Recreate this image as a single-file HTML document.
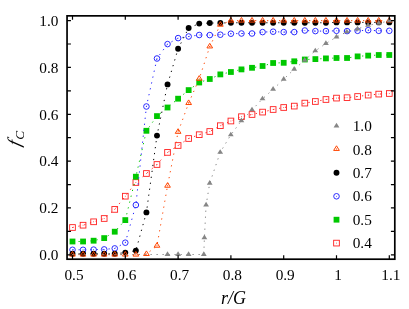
<!DOCTYPE html>
<html><head><meta charset="utf-8"><title>chart</title>
<style>
html,body{margin:0;padding:0;background:#fff;}
body{width:409px;height:309px;overflow:hidden;font-family:"Liberation Serif",serif;}
.t{font-family:"Liberation Serif",serif;font-size:15.3px;fill:#000;}
.i{font-family:"Liberation Serif",serif;font-style:italic;fill:#000;}
</style></head><body>
<svg width="409" height="309" viewBox="0 0 409 309" style="display:block;will-change:transform;opacity:0.999">
<rect width="409" height="309" fill="#fff"/>
<g>
<polyline points="72.50,227.50 83.06,225.20 93.62,221.80 104.18,218.50 114.74,209.40 125.30,196.20 135.86,182.50 146.42,173.50 156.98,164.50 167.54,152.40 178.10,145.50 188.66,138.50 199.22,134.70 209.78,131.50 220.34,125.70 230.90,121.00 241.46,116.70 252.02,114.50 262.58,112.10 273.14,109.50 283.70,107.50 294.26,106.10 304.82,103.10 315.38,101.50 325.94,99.50 336.50,98.10 347.06,97.70 357.62,96.50 368.18,95.10 378.74,94.10 389.30,93.50" fill="none" stroke="#ff2020" stroke-width="1" stroke-dasharray="1.25 4.75"/>
<rect x="69.65" y="224.65" width="5.7" height="5.7" fill="none" stroke="#ff2020" stroke-width="0.9"/><rect x="72.10" y="227.10" width="0.8" height="0.8" fill="#ff2020"/>
<rect x="80.21" y="222.35" width="5.7" height="5.7" fill="none" stroke="#ff2020" stroke-width="0.9"/><rect x="82.66" y="224.80" width="0.8" height="0.8" fill="#ff2020"/>
<rect x="90.77" y="218.95" width="5.7" height="5.7" fill="none" stroke="#ff2020" stroke-width="0.9"/><rect x="93.22" y="221.40" width="0.8" height="0.8" fill="#ff2020"/>
<rect x="101.33" y="215.65" width="5.7" height="5.7" fill="none" stroke="#ff2020" stroke-width="0.9"/><rect x="103.78" y="218.10" width="0.8" height="0.8" fill="#ff2020"/>
<rect x="111.89" y="206.55" width="5.7" height="5.7" fill="none" stroke="#ff2020" stroke-width="0.9"/><rect x="114.34" y="209.00" width="0.8" height="0.8" fill="#ff2020"/>
<rect x="122.45" y="193.35" width="5.7" height="5.7" fill="none" stroke="#ff2020" stroke-width="0.9"/><rect x="124.90" y="195.80" width="0.8" height="0.8" fill="#ff2020"/>
<rect x="133.01" y="179.65" width="5.7" height="5.7" fill="none" stroke="#ff2020" stroke-width="0.9"/><rect x="135.46" y="182.10" width="0.8" height="0.8" fill="#ff2020"/>
<rect x="143.57" y="170.65" width="5.7" height="5.7" fill="none" stroke="#ff2020" stroke-width="0.9"/><rect x="146.02" y="173.10" width="0.8" height="0.8" fill="#ff2020"/>
<rect x="154.13" y="161.65" width="5.7" height="5.7" fill="none" stroke="#ff2020" stroke-width="0.9"/><rect x="156.58" y="164.10" width="0.8" height="0.8" fill="#ff2020"/>
<rect x="164.69" y="149.55" width="5.7" height="5.7" fill="none" stroke="#ff2020" stroke-width="0.9"/><rect x="167.14" y="152.00" width="0.8" height="0.8" fill="#ff2020"/>
<rect x="175.25" y="142.65" width="5.7" height="5.7" fill="none" stroke="#ff2020" stroke-width="0.9"/><rect x="177.70" y="145.10" width="0.8" height="0.8" fill="#ff2020"/>
<rect x="185.81" y="135.65" width="5.7" height="5.7" fill="none" stroke="#ff2020" stroke-width="0.9"/><rect x="188.26" y="138.10" width="0.8" height="0.8" fill="#ff2020"/>
<rect x="196.37" y="131.85" width="5.7" height="5.7" fill="none" stroke="#ff2020" stroke-width="0.9"/><rect x="198.82" y="134.30" width="0.8" height="0.8" fill="#ff2020"/>
<rect x="206.93" y="128.65" width="5.7" height="5.7" fill="none" stroke="#ff2020" stroke-width="0.9"/><rect x="209.38" y="131.10" width="0.8" height="0.8" fill="#ff2020"/>
<rect x="217.49" y="122.85" width="5.7" height="5.7" fill="none" stroke="#ff2020" stroke-width="0.9"/><rect x="219.94" y="125.30" width="0.8" height="0.8" fill="#ff2020"/>
<rect x="228.05" y="118.15" width="5.7" height="5.7" fill="none" stroke="#ff2020" stroke-width="0.9"/><rect x="230.50" y="120.60" width="0.8" height="0.8" fill="#ff2020"/>
<rect x="238.61" y="113.85" width="5.7" height="5.7" fill="none" stroke="#ff2020" stroke-width="0.9"/><rect x="241.06" y="116.30" width="0.8" height="0.8" fill="#ff2020"/>
<rect x="249.17" y="111.65" width="5.7" height="5.7" fill="none" stroke="#ff2020" stroke-width="0.9"/><rect x="251.62" y="114.10" width="0.8" height="0.8" fill="#ff2020"/>
<rect x="259.73" y="109.25" width="5.7" height="5.7" fill="none" stroke="#ff2020" stroke-width="0.9"/><rect x="262.18" y="111.70" width="0.8" height="0.8" fill="#ff2020"/>
<rect x="270.29" y="106.65" width="5.7" height="5.7" fill="none" stroke="#ff2020" stroke-width="0.9"/><rect x="272.74" y="109.10" width="0.8" height="0.8" fill="#ff2020"/>
<rect x="280.85" y="104.65" width="5.7" height="5.7" fill="none" stroke="#ff2020" stroke-width="0.9"/><rect x="283.30" y="107.10" width="0.8" height="0.8" fill="#ff2020"/>
<rect x="291.41" y="103.25" width="5.7" height="5.7" fill="none" stroke="#ff2020" stroke-width="0.9"/><rect x="293.86" y="105.70" width="0.8" height="0.8" fill="#ff2020"/>
<rect x="301.97" y="100.25" width="5.7" height="5.7" fill="none" stroke="#ff2020" stroke-width="0.9"/><rect x="304.42" y="102.70" width="0.8" height="0.8" fill="#ff2020"/>
<rect x="312.53" y="98.65" width="5.7" height="5.7" fill="none" stroke="#ff2020" stroke-width="0.9"/><rect x="314.98" y="101.10" width="0.8" height="0.8" fill="#ff2020"/>
<rect x="323.09" y="96.65" width="5.7" height="5.7" fill="none" stroke="#ff2020" stroke-width="0.9"/><rect x="325.54" y="99.10" width="0.8" height="0.8" fill="#ff2020"/>
<rect x="333.65" y="95.25" width="5.7" height="5.7" fill="none" stroke="#ff2020" stroke-width="0.9"/><rect x="336.10" y="97.70" width="0.8" height="0.8" fill="#ff2020"/>
<rect x="344.21" y="94.85" width="5.7" height="5.7" fill="none" stroke="#ff2020" stroke-width="0.9"/><rect x="346.66" y="97.30" width="0.8" height="0.8" fill="#ff2020"/>
<rect x="354.77" y="93.65" width="5.7" height="5.7" fill="none" stroke="#ff2020" stroke-width="0.9"/><rect x="357.22" y="96.10" width="0.8" height="0.8" fill="#ff2020"/>
<rect x="365.33" y="92.25" width="5.7" height="5.7" fill="none" stroke="#ff2020" stroke-width="0.9"/><rect x="367.78" y="94.70" width="0.8" height="0.8" fill="#ff2020"/>
<rect x="375.89" y="91.25" width="5.7" height="5.7" fill="none" stroke="#ff2020" stroke-width="0.9"/><rect x="378.34" y="93.70" width="0.8" height="0.8" fill="#ff2020"/>
<rect x="386.45" y="90.65" width="5.7" height="5.7" fill="none" stroke="#ff2020" stroke-width="0.9"/><rect x="388.90" y="93.10" width="0.8" height="0.8" fill="#ff2020"/>
</g>
<g>
<polyline points="72.50,241.50 83.06,241.50 93.62,240.70 104.18,238.10 114.74,231.70 125.30,220.10 135.86,176.70 146.42,130.80 156.98,116.10 167.54,107.50 178.10,98.70 188.66,90.10 199.22,82.50 209.78,79.00 220.34,74.40 230.90,72.00 241.46,69.40 252.02,67.80 262.58,66.00 273.14,63.00 283.70,62.80 294.26,61.30 304.82,59.50 315.38,59.10 325.94,58.40 336.50,58.00 347.06,58.00 357.62,56.40 368.18,55.60 378.74,55.00 389.30,55.00" fill="none" stroke="#00c800" stroke-width="1" stroke-dasharray="1.25 4.75"/>
<rect x="69.60" y="238.60" width="5.8" height="5.8" fill="#00c800"/>
<rect x="80.16" y="238.60" width="5.8" height="5.8" fill="#00c800"/>
<rect x="90.72" y="237.80" width="5.8" height="5.8" fill="#00c800"/>
<rect x="101.28" y="235.20" width="5.8" height="5.8" fill="#00c800"/>
<rect x="111.84" y="228.80" width="5.8" height="5.8" fill="#00c800"/>
<rect x="122.40" y="217.20" width="5.8" height="5.8" fill="#00c800"/>
<rect x="132.96" y="173.80" width="5.8" height="5.8" fill="#00c800"/>
<rect x="143.52" y="127.90" width="5.8" height="5.8" fill="#00c800"/>
<rect x="154.08" y="113.20" width="5.8" height="5.8" fill="#00c800"/>
<rect x="164.64" y="104.60" width="5.8" height="5.8" fill="#00c800"/>
<rect x="175.20" y="95.80" width="5.8" height="5.8" fill="#00c800"/>
<rect x="185.76" y="87.20" width="5.8" height="5.8" fill="#00c800"/>
<rect x="196.32" y="79.60" width="5.8" height="5.8" fill="#00c800"/>
<rect x="206.88" y="76.10" width="5.8" height="5.8" fill="#00c800"/>
<rect x="217.44" y="71.50" width="5.8" height="5.8" fill="#00c800"/>
<rect x="228.00" y="69.10" width="5.8" height="5.8" fill="#00c800"/>
<rect x="238.56" y="66.50" width="5.8" height="5.8" fill="#00c800"/>
<rect x="249.12" y="64.90" width="5.8" height="5.8" fill="#00c800"/>
<rect x="259.68" y="63.10" width="5.8" height="5.8" fill="#00c800"/>
<rect x="270.24" y="60.10" width="5.8" height="5.8" fill="#00c800"/>
<rect x="280.80" y="59.90" width="5.8" height="5.8" fill="#00c800"/>
<rect x="291.36" y="58.40" width="5.8" height="5.8" fill="#00c800"/>
<rect x="301.92" y="56.60" width="5.8" height="5.8" fill="#00c800"/>
<rect x="312.48" y="56.20" width="5.8" height="5.8" fill="#00c800"/>
<rect x="323.04" y="55.50" width="5.8" height="5.8" fill="#00c800"/>
<rect x="333.60" y="55.10" width="5.8" height="5.8" fill="#00c800"/>
<rect x="344.16" y="55.10" width="5.8" height="5.8" fill="#00c800"/>
<rect x="354.72" y="53.50" width="5.8" height="5.8" fill="#00c800"/>
<rect x="365.28" y="52.70" width="5.8" height="5.8" fill="#00c800"/>
<rect x="375.84" y="52.10" width="5.8" height="5.8" fill="#00c800"/>
<rect x="386.40" y="52.10" width="5.8" height="5.8" fill="#00c800"/>
</g>
<g>
<polyline points="72.50,249.80 83.06,249.80 93.62,249.60 104.18,249.40 114.74,248.40 125.30,242.70 135.86,205.00 146.42,106.50 156.98,58.50 167.54,44.10 178.10,38.10 188.66,36.50 199.22,35.00 209.78,35.10 220.34,34.70 230.90,33.70 241.46,33.50 252.02,33.50 262.58,32.10 273.14,31.70 283.70,32.10 294.26,32.10 304.82,30.50 315.38,31.10 325.94,31.10 336.50,30.80 347.06,31.10 357.62,30.80 368.18,30.20 378.74,30.80 389.30,30.80" fill="none" stroke="#2020ff" stroke-width="1" stroke-dasharray="1.25 4.75"/>
<circle cx="72.50" cy="249.80" r="2.8" fill="none" stroke="#2020ff" stroke-width="0.95"/><rect x="72.10" y="249.40" width="0.8" height="0.8" fill="#2020ff"/>
<circle cx="83.06" cy="249.80" r="2.8" fill="none" stroke="#2020ff" stroke-width="0.95"/><rect x="82.66" y="249.40" width="0.8" height="0.8" fill="#2020ff"/>
<circle cx="93.62" cy="249.60" r="2.8" fill="none" stroke="#2020ff" stroke-width="0.95"/><rect x="93.22" y="249.20" width="0.8" height="0.8" fill="#2020ff"/>
<circle cx="104.18" cy="249.40" r="2.8" fill="none" stroke="#2020ff" stroke-width="0.95"/><rect x="103.78" y="249.00" width="0.8" height="0.8" fill="#2020ff"/>
<circle cx="114.74" cy="248.40" r="2.8" fill="none" stroke="#2020ff" stroke-width="0.95"/><rect x="114.34" y="248.00" width="0.8" height="0.8" fill="#2020ff"/>
<circle cx="125.30" cy="242.70" r="2.8" fill="none" stroke="#2020ff" stroke-width="0.95"/><rect x="124.90" y="242.30" width="0.8" height="0.8" fill="#2020ff"/>
<circle cx="135.86" cy="205.00" r="2.8" fill="none" stroke="#2020ff" stroke-width="0.95"/><rect x="135.46" y="204.60" width="0.8" height="0.8" fill="#2020ff"/>
<circle cx="146.42" cy="106.50" r="2.8" fill="none" stroke="#2020ff" stroke-width="0.95"/><rect x="146.02" y="106.10" width="0.8" height="0.8" fill="#2020ff"/>
<circle cx="156.98" cy="58.50" r="2.8" fill="none" stroke="#2020ff" stroke-width="0.95"/><rect x="156.58" y="58.10" width="0.8" height="0.8" fill="#2020ff"/>
<circle cx="167.54" cy="44.10" r="2.8" fill="none" stroke="#2020ff" stroke-width="0.95"/><rect x="167.14" y="43.70" width="0.8" height="0.8" fill="#2020ff"/>
<circle cx="178.10" cy="38.10" r="2.8" fill="none" stroke="#2020ff" stroke-width="0.95"/><rect x="177.70" y="37.70" width="0.8" height="0.8" fill="#2020ff"/>
<circle cx="188.66" cy="36.50" r="2.8" fill="none" stroke="#2020ff" stroke-width="0.95"/><rect x="188.26" y="36.10" width="0.8" height="0.8" fill="#2020ff"/>
<circle cx="199.22" cy="35.00" r="2.8" fill="none" stroke="#2020ff" stroke-width="0.95"/><rect x="198.82" y="34.60" width="0.8" height="0.8" fill="#2020ff"/>
<circle cx="209.78" cy="35.10" r="2.8" fill="none" stroke="#2020ff" stroke-width="0.95"/><rect x="209.38" y="34.70" width="0.8" height="0.8" fill="#2020ff"/>
<circle cx="220.34" cy="34.70" r="2.8" fill="none" stroke="#2020ff" stroke-width="0.95"/><rect x="219.94" y="34.30" width="0.8" height="0.8" fill="#2020ff"/>
<circle cx="230.90" cy="33.70" r="2.8" fill="none" stroke="#2020ff" stroke-width="0.95"/><rect x="230.50" y="33.30" width="0.8" height="0.8" fill="#2020ff"/>
<circle cx="241.46" cy="33.50" r="2.8" fill="none" stroke="#2020ff" stroke-width="0.95"/><rect x="241.06" y="33.10" width="0.8" height="0.8" fill="#2020ff"/>
<circle cx="252.02" cy="33.50" r="2.8" fill="none" stroke="#2020ff" stroke-width="0.95"/><rect x="251.62" y="33.10" width="0.8" height="0.8" fill="#2020ff"/>
<circle cx="262.58" cy="32.10" r="2.8" fill="none" stroke="#2020ff" stroke-width="0.95"/><rect x="262.18" y="31.70" width="0.8" height="0.8" fill="#2020ff"/>
<circle cx="273.14" cy="31.70" r="2.8" fill="none" stroke="#2020ff" stroke-width="0.95"/><rect x="272.74" y="31.30" width="0.8" height="0.8" fill="#2020ff"/>
<circle cx="283.70" cy="32.10" r="2.8" fill="none" stroke="#2020ff" stroke-width="0.95"/><rect x="283.30" y="31.70" width="0.8" height="0.8" fill="#2020ff"/>
<circle cx="294.26" cy="32.10" r="2.8" fill="none" stroke="#2020ff" stroke-width="0.95"/><rect x="293.86" y="31.70" width="0.8" height="0.8" fill="#2020ff"/>
<circle cx="304.82" cy="30.50" r="2.8" fill="none" stroke="#2020ff" stroke-width="0.95"/><rect x="304.42" y="30.10" width="0.8" height="0.8" fill="#2020ff"/>
<circle cx="315.38" cy="31.10" r="2.8" fill="none" stroke="#2020ff" stroke-width="0.95"/><rect x="314.98" y="30.70" width="0.8" height="0.8" fill="#2020ff"/>
<circle cx="325.94" cy="31.10" r="2.8" fill="none" stroke="#2020ff" stroke-width="0.95"/><rect x="325.54" y="30.70" width="0.8" height="0.8" fill="#2020ff"/>
<circle cx="336.50" cy="30.80" r="2.8" fill="none" stroke="#2020ff" stroke-width="0.95"/><rect x="336.10" y="30.40" width="0.8" height="0.8" fill="#2020ff"/>
<circle cx="347.06" cy="31.10" r="2.8" fill="none" stroke="#2020ff" stroke-width="0.95"/><rect x="346.66" y="30.70" width="0.8" height="0.8" fill="#2020ff"/>
<circle cx="357.62" cy="30.80" r="2.8" fill="none" stroke="#2020ff" stroke-width="0.95"/><rect x="357.22" y="30.40" width="0.8" height="0.8" fill="#2020ff"/>
<circle cx="368.18" cy="30.20" r="2.8" fill="none" stroke="#2020ff" stroke-width="0.95"/><rect x="367.78" y="29.80" width="0.8" height="0.8" fill="#2020ff"/>
<circle cx="378.74" cy="30.80" r="2.8" fill="none" stroke="#2020ff" stroke-width="0.95"/><rect x="378.34" y="30.40" width="0.8" height="0.8" fill="#2020ff"/>
<circle cx="389.30" cy="30.80" r="2.8" fill="none" stroke="#2020ff" stroke-width="0.95"/><rect x="388.90" y="30.40" width="0.8" height="0.8" fill="#2020ff"/>
</g>
<g>
<polyline points="72.50,253.80 83.06,253.80 93.62,253.80 104.18,253.80 114.74,253.80 125.30,252.60 135.86,250.60 146.42,212.40 156.98,135.60 167.54,84.40 178.10,48.70 188.66,28.00 199.22,23.60 209.78,23.00 220.34,23.00 230.90,22.75 241.46,22.75 252.02,22.75 262.58,22.75 273.14,22.75 283.70,22.75 294.26,22.75 304.82,22.75 315.38,22.75 325.94,22.75 336.50,22.40 347.06,22.40 357.62,22.40 368.18,22.40 378.74,22.40 389.30,22.40" fill="none" stroke="#000" stroke-width="1" stroke-dasharray="1.25 4.75"/>
<circle cx="72.50" cy="253.80" r="2.95" fill="#000"/>
<circle cx="83.06" cy="253.80" r="2.95" fill="#000"/>
<circle cx="93.62" cy="253.80" r="2.95" fill="#000"/>
<circle cx="104.18" cy="253.80" r="2.95" fill="#000"/>
<circle cx="114.74" cy="253.80" r="2.95" fill="#000"/>
<circle cx="125.30" cy="252.60" r="2.95" fill="#000"/>
<circle cx="135.86" cy="250.60" r="2.95" fill="#000"/>
<circle cx="146.42" cy="212.40" r="2.95" fill="#000"/>
<circle cx="156.98" cy="135.60" r="2.95" fill="#000"/>
<circle cx="167.54" cy="84.40" r="2.95" fill="#000"/>
<circle cx="178.10" cy="48.70" r="2.95" fill="#000"/>
<circle cx="188.66" cy="28.00" r="2.95" fill="#000"/>
<circle cx="199.22" cy="23.60" r="2.95" fill="#000"/>
<circle cx="209.78" cy="23.00" r="2.95" fill="#000"/>
<circle cx="220.34" cy="23.00" r="2.95" fill="#000"/>
<circle cx="230.90" cy="22.75" r="2.95" fill="#000"/>
<circle cx="241.46" cy="22.75" r="2.95" fill="#000"/>
<circle cx="252.02" cy="22.75" r="2.95" fill="#000"/>
<circle cx="262.58" cy="22.75" r="2.95" fill="#000"/>
<circle cx="273.14" cy="22.75" r="2.95" fill="#000"/>
<circle cx="283.70" cy="22.75" r="2.95" fill="#000"/>
<circle cx="294.26" cy="22.75" r="2.95" fill="#000"/>
<circle cx="304.82" cy="22.75" r="2.95" fill="#000"/>
<circle cx="315.38" cy="22.75" r="2.95" fill="#000"/>
<circle cx="325.94" cy="22.75" r="2.95" fill="#000"/>
<circle cx="336.50" cy="22.40" r="2.95" fill="#000"/>
<circle cx="347.06" cy="22.40" r="2.95" fill="#000"/>
<circle cx="357.62" cy="22.40" r="2.95" fill="#000"/>
<circle cx="368.18" cy="22.40" r="2.95" fill="#000"/>
<circle cx="378.74" cy="22.40" r="2.95" fill="#000"/>
<circle cx="389.30" cy="22.40" r="2.95" fill="#000"/>
</g>
<g>
<polyline points="72.50,254.66 83.06,254.66 93.62,254.66 104.18,254.66 114.74,254.66 125.30,254.66 135.86,254.66 146.42,254.10 156.98,245.80 167.54,185.80 178.10,131.90 188.66,103.10 199.22,78.80 209.78,46.50 220.34,24.80 230.90,20.65 241.46,20.65 252.02,20.65 262.58,20.65 273.14,20.65 283.70,20.65 294.26,20.65 304.82,20.65 315.38,20.65 325.94,20.65 336.50,20.65 347.06,20.65 357.62,20.65 368.18,20.65 378.74,20.65 389.30,20.65" fill="none" stroke="#ff4500" stroke-width="1" stroke-dasharray="1.25 4.75"/>
<path d="M72.50,251.47 L69.65,256.09 L75.35,256.09 Z" fill="none" stroke="#ff4500" stroke-width="1" stroke-linejoin="miter"/><rect x="72.00" y="254.16" width="1" height="1" fill="#ff4500"/>
<path d="M83.06,251.47 L80.21,256.09 L85.91,256.09 Z" fill="none" stroke="#ff4500" stroke-width="1" stroke-linejoin="miter"/><rect x="82.56" y="254.16" width="1" height="1" fill="#ff4500"/>
<path d="M93.62,251.47 L90.77,256.09 L96.47,256.09 Z" fill="none" stroke="#ff4500" stroke-width="1" stroke-linejoin="miter"/><rect x="93.12" y="254.16" width="1" height="1" fill="#ff4500"/>
<path d="M104.18,251.47 L101.33,256.09 L107.03,256.09 Z" fill="none" stroke="#ff4500" stroke-width="1" stroke-linejoin="miter"/><rect x="103.68" y="254.16" width="1" height="1" fill="#ff4500"/>
<path d="M114.74,251.47 L111.89,256.09 L117.59,256.09 Z" fill="none" stroke="#ff4500" stroke-width="1" stroke-linejoin="miter"/><rect x="114.24" y="254.16" width="1" height="1" fill="#ff4500"/>
<path d="M125.30,251.47 L122.45,256.09 L128.15,256.09 Z" fill="none" stroke="#ff4500" stroke-width="1" stroke-linejoin="miter"/><rect x="124.80" y="254.16" width="1" height="1" fill="#ff4500"/>
<path d="M135.86,251.47 L133.01,256.09 L138.71,256.09 Z" fill="none" stroke="#ff4500" stroke-width="1" stroke-linejoin="miter"/><rect x="135.36" y="254.16" width="1" height="1" fill="#ff4500"/>
<path d="M146.42,250.91 L143.57,255.53 L149.27,255.53 Z" fill="none" stroke="#ff4500" stroke-width="1" stroke-linejoin="miter"/><rect x="145.92" y="253.60" width="1" height="1" fill="#ff4500"/>
<path d="M156.98,242.61 L154.13,247.23 L159.83,247.23 Z" fill="none" stroke="#ff4500" stroke-width="1" stroke-linejoin="miter"/><rect x="156.48" y="245.30" width="1" height="1" fill="#ff4500"/>
<path d="M167.54,182.61 L164.69,187.23 L170.39,187.23 Z" fill="none" stroke="#ff4500" stroke-width="1" stroke-linejoin="miter"/><rect x="167.04" y="185.30" width="1" height="1" fill="#ff4500"/>
<path d="M178.10,128.71 L175.25,133.33 L180.95,133.33 Z" fill="none" stroke="#ff4500" stroke-width="1" stroke-linejoin="miter"/><rect x="177.60" y="131.40" width="1" height="1" fill="#ff4500"/>
<path d="M188.66,99.91 L185.81,104.53 L191.51,104.53 Z" fill="none" stroke="#ff4500" stroke-width="1" stroke-linejoin="miter"/><rect x="188.16" y="102.60" width="1" height="1" fill="#ff4500"/>
<path d="M199.22,75.61 L196.37,80.23 L202.07,80.23 Z" fill="none" stroke="#ff4500" stroke-width="1" stroke-linejoin="miter"/><rect x="198.72" y="78.30" width="1" height="1" fill="#ff4500"/>
<path d="M209.78,43.31 L206.93,47.93 L212.63,47.93 Z" fill="none" stroke="#ff4500" stroke-width="1" stroke-linejoin="miter"/><rect x="209.28" y="46.00" width="1" height="1" fill="#ff4500"/>
<path d="M220.34,21.61 L217.49,26.23 L223.19,26.23 Z" fill="none" stroke="#ff4500" stroke-width="1" stroke-linejoin="miter"/><rect x="219.84" y="24.30" width="1" height="1" fill="#ff4500"/>
<path d="M230.90,17.46 L228.05,22.08 L233.75,22.08 Z" fill="none" stroke="#ff4500" stroke-width="1" stroke-linejoin="miter"/><rect x="230.40" y="20.15" width="1" height="1" fill="#ff4500"/>
<path d="M241.46,17.46 L238.61,22.08 L244.31,22.08 Z" fill="none" stroke="#ff4500" stroke-width="1" stroke-linejoin="miter"/><rect x="240.96" y="20.15" width="1" height="1" fill="#ff4500"/>
<path d="M252.02,17.46 L249.17,22.08 L254.87,22.08 Z" fill="none" stroke="#ff4500" stroke-width="1" stroke-linejoin="miter"/><rect x="251.52" y="20.15" width="1" height="1" fill="#ff4500"/>
<path d="M262.58,17.46 L259.73,22.08 L265.43,22.08 Z" fill="none" stroke="#ff4500" stroke-width="1" stroke-linejoin="miter"/><rect x="262.08" y="20.15" width="1" height="1" fill="#ff4500"/>
<path d="M273.14,17.46 L270.29,22.08 L275.99,22.08 Z" fill="none" stroke="#ff4500" stroke-width="1" stroke-linejoin="miter"/><rect x="272.64" y="20.15" width="1" height="1" fill="#ff4500"/>
<path d="M283.70,17.46 L280.85,22.08 L286.55,22.08 Z" fill="none" stroke="#ff4500" stroke-width="1" stroke-linejoin="miter"/><rect x="283.20" y="20.15" width="1" height="1" fill="#ff4500"/>
<path d="M294.26,17.46 L291.41,22.08 L297.11,22.08 Z" fill="none" stroke="#ff4500" stroke-width="1" stroke-linejoin="miter"/><rect x="293.76" y="20.15" width="1" height="1" fill="#ff4500"/>
<path d="M304.82,17.46 L301.97,22.08 L307.67,22.08 Z" fill="none" stroke="#ff4500" stroke-width="1" stroke-linejoin="miter"/><rect x="304.32" y="20.15" width="1" height="1" fill="#ff4500"/>
<path d="M315.38,17.46 L312.53,22.08 L318.23,22.08 Z" fill="none" stroke="#ff4500" stroke-width="1" stroke-linejoin="miter"/><rect x="314.88" y="20.15" width="1" height="1" fill="#ff4500"/>
<path d="M325.94,17.46 L323.09,22.08 L328.79,22.08 Z" fill="none" stroke="#ff4500" stroke-width="1" stroke-linejoin="miter"/><rect x="325.44" y="20.15" width="1" height="1" fill="#ff4500"/>
<path d="M336.50,17.46 L333.65,22.08 L339.35,22.08 Z" fill="none" stroke="#ff4500" stroke-width="1" stroke-linejoin="miter"/><rect x="336.00" y="20.15" width="1" height="1" fill="#ff4500"/>
<path d="M347.06,17.46 L344.21,22.08 L349.91,22.08 Z" fill="none" stroke="#ff4500" stroke-width="1" stroke-linejoin="miter"/><rect x="346.56" y="20.15" width="1" height="1" fill="#ff4500"/>
<path d="M357.62,17.46 L354.77,22.08 L360.47,22.08 Z" fill="none" stroke="#ff4500" stroke-width="1" stroke-linejoin="miter"/><rect x="357.12" y="20.15" width="1" height="1" fill="#ff4500"/>
<path d="M368.18,17.46 L365.33,22.08 L371.03,22.08 Z" fill="none" stroke="#ff4500" stroke-width="1" stroke-linejoin="miter"/><rect x="367.68" y="20.15" width="1" height="1" fill="#ff4500"/>
<path d="M378.74,17.46 L375.89,22.08 L381.59,22.08 Z" fill="none" stroke="#ff4500" stroke-width="1" stroke-linejoin="miter"/><rect x="378.24" y="20.15" width="1" height="1" fill="#ff4500"/>
<path d="M389.30,17.46 L386.45,22.08 L392.15,22.08 Z" fill="none" stroke="#ff4500" stroke-width="1" stroke-linejoin="miter"/><rect x="388.80" y="20.15" width="1" height="1" fill="#ff4500"/>
</g>
<g>
<polyline points="72.50,254.50 167.50,254.50 178.10,254.50 188.60,254.50 203.80,254.50 204.40,237.80 206.10,205.10 209.70,183.30 220.20,152.40 230.80,134.90 241.40,120.80 252.00,109.90 262.50,98.90 273.10,89.30 283.70,79.20 294.20,69.20 304.70,60.30 315.30,50.90 325.90,43.50 336.50,37.00 346.80,31.90 357.50,29.00 368.10,25.40 378.80,23.30 389.40,20.80" fill="none" stroke="#868686" stroke-width="1" stroke-dasharray="1.25 4.75"/>
<path d="M167.50,251.25 L164.60,255.95 L170.40,255.95 Z" fill="#868686"/>
<path d="M178.10,251.25 L175.20,255.95 L181.00,255.95 Z" fill="#868686"/>
<path d="M188.60,251.25 L185.70,255.95 L191.50,255.95 Z" fill="#868686"/>
<path d="M203.80,251.25 L200.90,255.95 L206.70,255.95 Z" fill="#868686"/>
<path d="M204.40,234.55 L201.50,239.25 L207.30,239.25 Z" fill="#868686"/>
<path d="M206.10,201.85 L203.20,206.55 L209.00,206.55 Z" fill="#868686"/>
<path d="M209.70,180.05 L206.80,184.75 L212.60,184.75 Z" fill="#868686"/>
<path d="M220.20,149.15 L217.30,153.85 L223.10,153.85 Z" fill="#868686"/>
<path d="M230.80,131.65 L227.90,136.35 L233.70,136.35 Z" fill="#868686"/>
<path d="M241.40,117.55 L238.50,122.25 L244.30,122.25 Z" fill="#868686"/>
<path d="M252.00,106.65 L249.10,111.35 L254.90,111.35 Z" fill="#868686"/>
<path d="M262.50,95.65 L259.60,100.35 L265.40,100.35 Z" fill="#868686"/>
<path d="M273.10,86.05 L270.20,90.75 L276.00,90.75 Z" fill="#868686"/>
<path d="M283.70,75.95 L280.80,80.65 L286.60,80.65 Z" fill="#868686"/>
<path d="M294.20,65.95 L291.30,70.65 L297.10,70.65 Z" fill="#868686"/>
<path d="M304.70,57.05 L301.80,61.75 L307.60,61.75 Z" fill="#868686"/>
<path d="M315.30,47.65 L312.40,52.35 L318.20,52.35 Z" fill="#868686"/>
<path d="M325.90,40.25 L323.00,44.95 L328.80,44.95 Z" fill="#868686"/>
<path d="M336.50,33.75 L333.60,38.45 L339.40,38.45 Z" fill="#868686"/>
<path d="M346.80,28.65 L343.90,33.35 L349.70,33.35 Z" fill="#868686"/>
<path d="M357.50,25.75 L354.60,30.45 L360.40,30.45 Z" fill="#868686"/>
<path d="M368.10,22.15 L365.20,26.85 L371.00,26.85 Z" fill="#868686"/>
<path d="M378.80,20.05 L375.90,24.75 L381.70,24.75 Z" fill="#868686"/>
<path d="M389.40,17.55 L386.50,22.25 L392.30,22.25 Z" fill="#868686"/>
</g>
<path d="M336.50,122.80 L333.60,127.50 L339.40,127.50 Z" fill="#868686"/>
<text x="352.7" y="131.20" class="t">1.0</text>
<path d="M336.50,145.81 L333.65,150.43 L339.35,150.43 Z" fill="none" stroke="#ff4500" stroke-width="1" stroke-linejoin="miter"/><rect x="336.00" y="148.50" width="1" height="1" fill="#ff4500"/>
<text x="352.7" y="154.60" class="t">0.8</text>
<circle cx="336.50" cy="172.70" r="2.95" fill="#000"/>
<text x="352.7" y="177.90" class="t">0.7</text>
<circle cx="336.50" cy="196.30" r="2.8" fill="none" stroke="#2020ff" stroke-width="0.95"/><rect x="336.10" y="195.90" width="0.8" height="0.8" fill="#2020ff"/>
<text x="352.7" y="201.30" class="t">0.6</text>
<rect x="333.60" y="216.80" width="5.8" height="5.8" fill="#00c800"/>
<text x="352.7" y="224.80" class="t">0.5</text>
<rect x="333.65" y="240.25" width="5.7" height="5.7" fill="none" stroke="#ff2020" stroke-width="0.9"/><rect x="336.10" y="242.70" width="0.8" height="0.8" fill="#ff2020"/>
<text x="352.7" y="248.40" class="t">0.4</text>
<rect x="67.05" y="15.85" width="327.75" height="243.35" fill="none" stroke="#000" stroke-width="1.7"/>
<path d="M72.50,259.2 V255.30 M72.50,15.85 V19.75 M125.30,259.2 V255.30 M125.30,15.85 V19.75 M178.10,259.2 V255.30 M178.10,15.85 V19.75 M230.90,259.2 V255.30 M230.90,15.85 V19.75 M283.70,259.2 V255.30 M283.70,15.85 V19.75 M336.50,259.2 V255.30 M336.50,15.85 V19.75 M389.30,259.2 V255.30 M389.30,15.85 V19.75 M67.05,254.80 H70.95 M394.8,254.80 H390.90 M67.05,231.38 H70.95 M394.8,231.38 H390.90 M67.05,207.96 H70.95 M394.8,207.96 H390.90 M67.05,184.54 H70.95 M394.8,184.54 H390.90 M67.05,161.12 H70.95 M394.8,161.12 H390.90 M67.05,137.70 H70.95 M394.8,137.70 H390.90 M67.05,114.28 H70.95 M394.8,114.28 H390.90 M67.05,90.86 H70.95 M394.8,90.86 H390.90 M67.05,67.44 H70.95 M394.8,67.44 H390.90 M67.05,44.02 H70.95 M394.8,44.02 H390.90 M67.05,20.60 H70.95 M394.8,20.60 H390.90" stroke="#000" stroke-width="1.2" fill="none"/>
<text x="74.00" y="279.8" text-anchor="middle" class="t">0.5</text>
<text x="126.80" y="279.8" text-anchor="middle" class="t">0.6</text>
<text x="179.60" y="279.8" text-anchor="middle" class="t">0.7</text>
<text x="232.40" y="279.8" text-anchor="middle" class="t">0.8</text>
<text x="285.20" y="279.8" text-anchor="middle" class="t">0.9</text>
<text x="338.00" y="279.8" text-anchor="middle" class="t">1</text>
<text x="390.80" y="279.8" text-anchor="middle" class="t">1.1</text>
<text x="58.4" y="260.10" text-anchor="end" class="t">0.0</text>
<text x="58.4" y="213.26" text-anchor="end" class="t">0.2</text>
<text x="58.4" y="166.42" text-anchor="end" class="t">0.4</text>
<text x="58.4" y="119.58" text-anchor="end" class="t">0.6</text>
<text x="58.4" y="72.74" text-anchor="end" class="t">0.8</text>
<text x="58.4" y="25.90" text-anchor="end" class="t">1.0</text>
<text x="220.9" y="303.5" class="i" font-size="18">r/G</text>
<g transform="translate(19.6,147.4) rotate(-90)"><text x="0" y="0" class="i" font-size="18" transform="translate(0.4,0) skewX(-15)">f</text><text x="0" y="0" class="i" font-size="13.4" transform="translate(7.7,4.5)">C</text></g>
</svg>
</body></html>
